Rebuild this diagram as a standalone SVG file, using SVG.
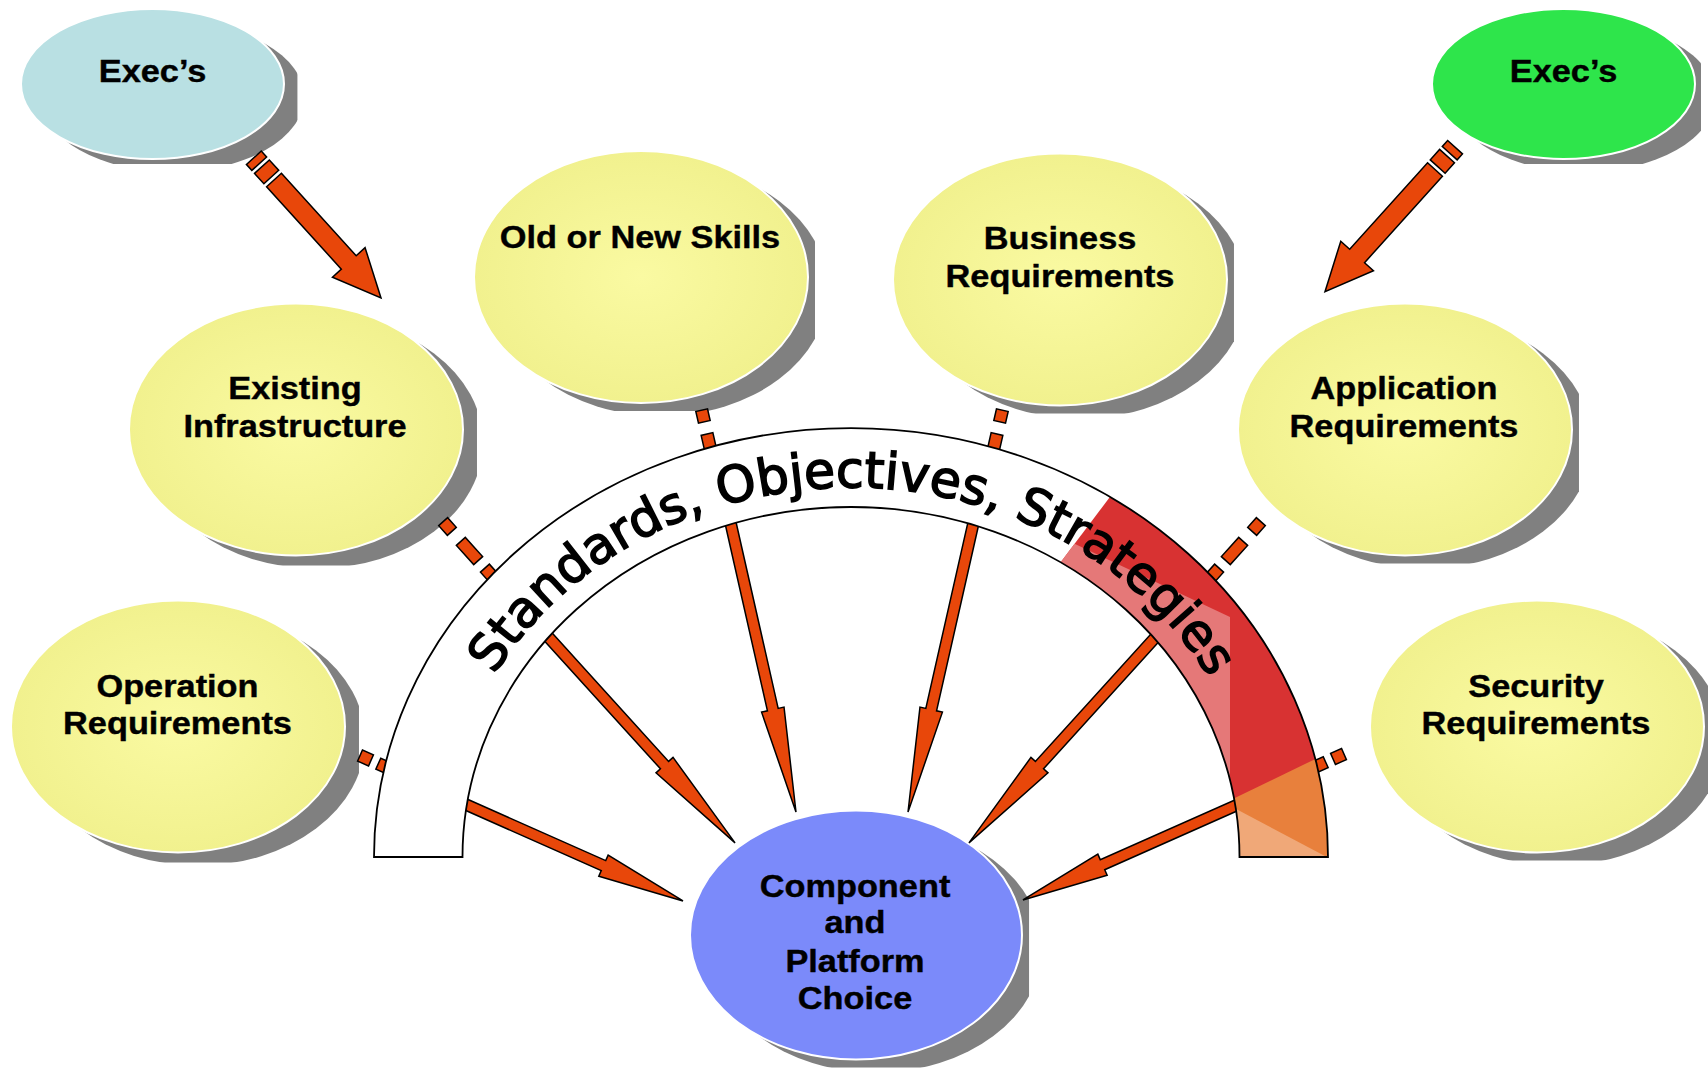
<svg xmlns="http://www.w3.org/2000/svg" width="1708" height="1070" viewBox="0 0 1708 1070">
<style>
.sh{fill:#808080}
.nd{stroke:#fff;stroke-width:2}
.yel{fill:url(#yg)}
.lbl{font-family:'Liberation Sans',Arial,sans-serif;font-weight:bold;font-size:31.5px;text-anchor:middle;fill:#000;stroke:#000;stroke-width:0.4}
.ar{fill:#E8470A;stroke:#000;stroke-width:1.5}
.arc-t{font-family:'DejaVu Sans',sans-serif;font-size:50.5px;fill:#000;stroke:#000;stroke-width:1.6}
</style>
<defs>
<radialGradient id="yg" cx="0.5" cy="0.5" r="0.5">
<stop offset="0" stop-color="#FAFAA2"/>
<stop offset="1" stop-color="#F1F18E"/>
</radialGradient>
<clipPath id="clipYL" clipPathUnits="objectBoundingBox"><rect x="0" y="0" width="0.982" height="0.988"/></clipPath>
<clipPath id="clipYR" clipPathUnits="objectBoundingBox"><rect x="0" y="0" width="0.961" height="0.98"/></clipPath>
<clipPath id="clipEL" clipPathUnits="objectBoundingBox"><rect x="0" y="0" width="0.975" height="0.947"/></clipPath>
<clipPath id="clipER" clipPathUnits="objectBoundingBox"><rect x="0" y="0" width="0.947" height="0.947"/></clipPath>
<clipPath id="bandClip"><path d="M374,857 A477,429 0 0 1 1328,857 L1239.5,857 A388.5,350 0 0 0 462.5,857 Z"/></clipPath>
<path id="arcText" d="M442.6,824.8 A410,370 0 0 1 1259.4,824.8"/>
</defs>
<rect width="1708" height="1070" fill="#fff"/>

<g id="node-exec-left">
<ellipse class="sh" cx="172.5" cy="97" rx="131.5" ry="75" clip-path="url(#clipEL)"/>
<ellipse class="nd" cx="152.5" cy="84" rx="131.5" ry="75" fill="#B9E0E3"/>
<text class="lbl" transform="translate(152.5,82) scale(1.09,1)">Exec’s</text>
</g>
<g id="node-exec-right">
<ellipse class="sh" cx="1583.5" cy="97" rx="131.5" ry="75" clip-path="url(#clipER)"/>
<ellipse class="nd" cx="1563.5" cy="84" rx="131.5" ry="75" fill="#2EE54B"/>
<text class="lbl" transform="translate(1563.5,82) scale(1.09,1)">Exec’s</text>
</g>
<g id="node-skills">
<ellipse class="sh" cx="661" cy="290" rx="167" ry="126" clip-path="url(#clipYR)"/>
<ellipse class="nd yel" cx="641" cy="277" rx="167" ry="126"/>
<text class="lbl" transform="translate(640,248) scale(1.09,1)">Old or New Skills</text>
</g>
<g id="node-business">
<ellipse class="sh" cx="1080" cy="292.5" rx="167" ry="126" clip-path="url(#clipYR)"/>
<ellipse class="nd yel" cx="1060" cy="279.5" rx="167" ry="126"/>
<text class="lbl" transform="translate(1060,249) scale(1.09,1)">Business</text>
<text class="lbl" transform="translate(1060,286.5) scale(1.09,1)">Requirements</text>
</g>
<g id="node-existing">
<ellipse class="sh" cx="316" cy="442.5" rx="167" ry="126" clip-path="url(#clipYL)"/>
<ellipse class="nd yel" cx="296" cy="429.5" rx="167" ry="126"/>
<text class="lbl" transform="translate(295,399) scale(1.09,1)">Existing</text>
<text class="lbl" transform="translate(295,436.7) scale(1.09,1)">Infrastructure</text>
</g>
<g id="node-application">
<ellipse class="sh" cx="1425" cy="442.5" rx="167" ry="126" clip-path="url(#clipYR)"/>
<ellipse class="nd yel" cx="1405" cy="429.5" rx="167" ry="126"/>
<text class="lbl" transform="translate(1404,399) scale(1.09,1)">Application</text>
<text class="lbl" transform="translate(1404,436.7) scale(1.09,1)">Requirements</text>
</g>
<g id="node-operation">
<ellipse class="sh" cx="198" cy="739.5" rx="167" ry="126" clip-path="url(#clipYL)"/>
<ellipse class="nd yel" cx="178" cy="726.5" rx="167" ry="126"/>
<text class="lbl" transform="translate(177.5,697) scale(1.09,1)">Operation</text>
<text class="lbl" transform="translate(177.5,734) scale(1.09,1)">Requirements</text>
</g>
<g id="node-security">
<ellipse class="sh" cx="1557" cy="739.5" rx="167" ry="126" clip-path="url(#clipYR)"/>
<ellipse class="nd yel" cx="1537" cy="726.5" rx="167" ry="126"/>
<text class="lbl" transform="translate(1536,697) scale(1.09,1)">Security</text>
<text class="lbl" transform="translate(1536,734) scale(1.09,1)">Requirements</text>
</g>
<g id="node-component">
<ellipse class="sh" cx="876" cy="948" rx="166" ry="124.5" clip-path="url(#clipYR)"/>
<ellipse class="nd" cx="856" cy="935" rx="166" ry="124.5" fill="#7B8AFA"/>
<text class="lbl" transform="translate(855,896.7) scale(1.09,1)">Component</text>
<text class="lbl" transform="translate(855,933.3) scale(1.09,1)">and</text>
<text class="lbl" transform="translate(855,971.7) scale(1.09,1)">Platform</text>
<text class="lbl" transform="translate(855,1009.3) scale(1.09,1)">Choice</text>
</g>

<g id="connectors">
<g transform="translate(274,180) rotate(47.8)">
<path class="ar" d="M0,-10 L111.3,-10 L111.3,-22 L159.3,0 L111.3,22 L111.3,10 L0,10 Z"/>
<rect class="ar" x="-18" y="-10" width="14" height="20"/>
<rect class="ar" x="-30" y="-10" width="8" height="20"/>
</g>
<g transform="translate(1435,169.5) rotate(132)">
<path class="ar" d="M0,-10 L116.4,-10 L116.4,-22 L164.4,0 L116.4,22 L116.4,10 L0,10 Z"/>
<rect class="ar" x="-18" y="-10" width="14" height="20"/>
<rect class="ar" x="-30" y="-10" width="8" height="20"/>
</g>
<path class="ar" transform="translate(458,801) rotate(23.96)" d="M0,-5.5 L159.2,-5.5 L159.2,-11.5 L246.2,0 L159.2,11.5 L159.2,5.5 L0,5.5 Z"/>
<path class="ar" transform="translate(542,630) rotate(47.8)" d="M0,-5.5 L182.4,-5.5 L182.4,-11.5 L287.4,0 L182.4,11.5 L182.4,5.5 L0,5.5 Z"/>
<path class="ar" transform="translate(729,516) rotate(77.25)" d="M0,-5.5 L198.5,-5.5 L198.5,-11.5 L303.5,0 L198.5,11.5 L198.5,5.5 L0,5.5 Z"/>
<path class="ar" transform="translate(975,516) rotate(102.75)" d="M0,-5.5 L198.5,-5.5 L198.5,-11.5 L303.5,0 L198.5,11.5 L198.5,5.5 L0,5.5 Z"/>
<path class="ar" transform="translate(1162,630) rotate(132.2)" d="M0,-5.5 L182.4,-5.5 L182.4,-11.5 L287.4,0 L182.4,11.5 L182.4,5.5 L0,5.5 Z"/>
<path class="ar" transform="translate(1246,801) rotate(156.07)" d="M0,-5.5 L157,-5.5 L157,-11.5 L244,0 L157,11.5 L157,5.5 L0,5.5 Z"/>
<rect class="ar" x="-6" y="-6" width="12" height="12" transform="translate(703,416) rotate(77.2)"/>
<rect class="ar" x="0" y="-6" width="26" height="12" transform="translate(707,434) rotate(77.2)"/>
<rect class="ar" x="-6" y="-6" width="12" height="12" transform="translate(1001,416) rotate(102.8)"/>
<rect class="ar" x="0" y="-6" width="26" height="12" transform="translate(997,434) rotate(102.8)"/>
<rect class="ar" x="-6.5" y="-6" width="13" height="12" transform="translate(447.5,526.5) rotate(48.1)"/>
<rect class="ar" x="-13" y="-6" width="26" height="12" transform="translate(469.5,551) rotate(48.1)"/>
<rect class="ar" x="0" y="-6" width="26" height="12" transform="translate(484.9,568.1) rotate(48.1)"/>
<rect class="ar" x="-6.5" y="-6" width="13" height="12" transform="translate(1256.5,526.5) rotate(131.9)"/>
<rect class="ar" x="-13" y="-6" width="26" height="12" transform="translate(1234.5,551) rotate(131.9)"/>
<rect class="ar" x="0" y="-6" width="26" height="12" transform="translate(1219.1,568.1) rotate(131.9)"/>
<rect class="ar" x="-6" y="-6" width="12" height="12" transform="translate(365.5,758) rotate(24)"/>
<rect class="ar" x="0" y="-6" width="26" height="12" transform="translate(378.3,763.7) rotate(24)"/>
<rect class="ar" x="-6" y="-6" width="12" height="12" transform="translate(1338.5,756.5) rotate(156)"/>
<rect class="ar" x="0" y="-6" width="26" height="12" transform="translate(1325.7,762.2) rotate(156)"/>
</g>

<g id="band">
<path d="M374,857 A477,429 0 0 1 1328,857 L1239.5,857 A388.5,350 0 0 0 462.5,857 Z" fill="#fff"/>
<g clip-path="url(#bandClip)">
<polygon points="1045,583 1125,477 1400,477 1400,870 1045,870" fill="#D83232"/>
<polygon points="1074.5,543.8 1230,617 1230,870 828,870 1045,583" fill="#E57878"/>
<polygon points="1200,815 1340,747 1340,870 1200,870" fill="#E8803C"/>
<polygon points="1230,805.8 1340,864 1340,870 1230,870" fill="#F0A878"/>
</g>
<path d="M374,857 A477,429 0 0 1 1328,857 L1239.5,857 A388.5,350 0 0 0 462.5,857 Z" fill="none" stroke="#000" stroke-width="1.8"/>
<text class="arc-t"><textPath href="#arcText" startOffset="160">Standards, Objectives, Strategies</textPath></text>
</g>
</svg>
